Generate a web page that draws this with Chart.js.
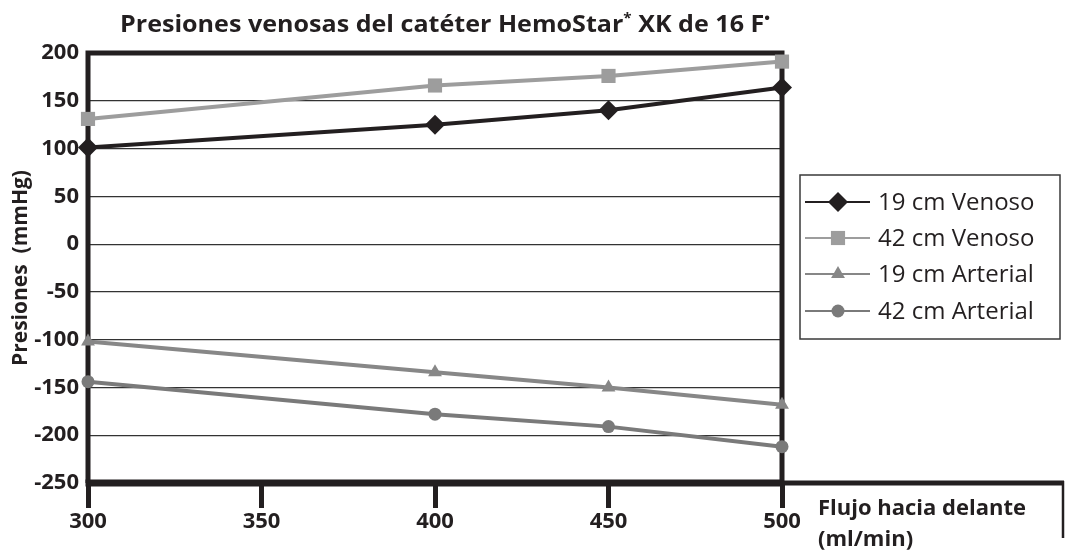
<!DOCTYPE html>
<html>
<head>
<meta charset="utf-8">
<script src="https://cdn.jsdelivr.net/npm/chart.js@4/dist/chart.umd.min.js"></script>
<style>
  html, body { margin: 0; padding: 0; background: #fff; }
  #wrap { width: 1068px; height: 554px; }
</style>
</head>
<body>
<div id="wrap"><canvas id="g-presiones" width="1068" height="554"></canvas></div>
<script>
// valores (mmHg) para cada flujo (ml/min)
const flujo = [300, 400, 450, 500];
const venoso19 = [101, 125, 140, 164];
const venoso42 = [131, 166, 176, 191];
const arterial19 = [-102, -134, -150, -168];
const arterial42 = [-144, -178, -191, -212];
const series = ['19 cm Venoso', '42 cm Venoso', '19 cm Arterial', '42 cm Arterial'];
const xTicks = [300, 350, 400, 450, 500];
const yTicks = [200, 150, 100, 50, 0, -50, -100, -150, -200, -250];

const negro = '#231f20';
const fontFam = '"Open Sans", "Liberation Sans", sans-serif';

function puntos(vals) {
    return flujo.map((f, i) => ({ x: f, y: vals[i] }));
}

// marco, eje inferior extendido y leyenda
const marco = {
    id: 'marco',
    beforeDatasetsDraw(chart) {
        const { ctx, chartArea: a } = chart;
        ctx.save();
        ctx.strokeStyle = negro;
        ctx.lineCap = 'butt';
        ctx.lineWidth = 5;
        ctx.beginPath();
        ctx.moveTo(a.left, a.bottom);
        ctx.lineTo(a.left, a.top);
        ctx.lineTo(a.right, a.top);
        ctx.lineTo(a.right, a.bottom);
        ctx.stroke();
        ctx.lineWidth = 7;
        ctx.beginPath();
        ctx.moveTo(a.left - 2.5, a.bottom);
        ctx.lineTo(a.right, a.bottom);
        ctx.stroke();
        ctx.lineWidth = 5;
        ctx.beginPath();
        ctx.moveTo(a.right, a.bottom);
        ctx.lineTo(1064, a.bottom);
        ctx.stroke();
        ctx.lineWidth = 2.5;
        ctx.beginPath();
        ctx.moveTo(1063, a.bottom - 2);
        ctx.lineTo(1063, 538);
        ctx.stroke();
        ctx.restore();
    },
    afterDraw(chart) {
        const { ctx } = chart;
        ctx.save();
        // titulo
        const partes = [
            ['Presiones venosas del catéter HemoStar', false],
            ['*', true],
            [' XK de 16 F', false],
            ['\u2022', true]
        ];
        const fNormal = 'bold 23px ' + fontFam;
        const fSup = 'bold 14px ' + fontFam;
        let total = 0;
        partes.forEach(([t, sup]) => {
            ctx.font = sup ? fSup : fNormal;
            total += ctx.measureText(t).width;
        });
        const sx = 650 / total;
        ctx.translate(120, 32);
        ctx.scale(sx, 1);
        ctx.fillStyle = negro;
        ctx.textBaseline = 'alphabetic';
        let x = 0;
        partes.forEach(([t, sup]) => {
            ctx.font = sup ? fSup : fNormal;
            ctx.fillText(t, x, sup ? -9 : 0);
            x += ctx.measureText(t).width;
        });
        ctx.setTransform(1, 0, 0, 1, 0, 0);
        ctx.restore();

        // titulo eje x
        ctx.save();
        ctx.fillStyle = negro;
        ctx.font = 'bold 22px ' + fontFam;
        ctx.textBaseline = 'middle';
        ctx.textAlign = 'left';
        ctx.fillText('Flujo hacia delante', 818, 509);
        ctx.fillText('(ml/min)', 818, 540);
        ctx.restore();

        // leyenda
        ctx.save();
        ctx.strokeStyle = '#3a3a3a';
        ctx.lineWidth = 1.5;
        ctx.strokeRect(800, 175, 260, 164);
        const ys = [202, 238, 274, 311];
        chart.data.datasets.forEach((ds, i) => {
            ctx.strokeStyle = ds.borderColor;
            ctx.lineWidth = 2;
            ctx.beginPath();
            ctx.moveTo(805, ys[i]);
            ctx.lineTo(870, ys[i]);
            ctx.stroke();
            ctx.fillStyle = ds.pointBackgroundColor;
            ctx.strokeStyle = ds.pointBackgroundColor;
            Chart.helpers.drawPoint(ctx, {
                pointStyle: ds.pointStyle,
                radius: ds.pointRadius,
                rotation: 0,
                borderWidth: 0
            }, 838, ys[i]);
            ctx.fillStyle = negro;
            ctx.font = '24px ' + fontFam;
            ctx.textBaseline = 'middle';
            ctx.fillText(ds.label, 878, ys[i] + 1);
        });
        ctx.restore();
    }
};

function drawGraph() {
    const ctx = document.getElementById('g-presiones').getContext('2d');
    const estilos = [
        { color: negro, style: 'rectRot', r: 10 },
        { color: '#9d9d9d', style: 'rect', r: 10 },
        { color: '#878787', style: 'triangle', r: 8 },
        { color: '#7a7a7a', style: 'circle', r: 6.5 }
    ];
    const valores = [venoso19, venoso42, arterial19, arterial42];

    const config = {
        type: 'line',
        data: {
            datasets: series.map((nombre, i) => ({
                label: nombre,
                data: puntos(valores[i]),
                borderColor: estilos[i].color,
                backgroundColor: estilos[i].color,
                pointBackgroundColor: estilos[i].color,
                pointBorderColor: estilos[i].color,
                pointBorderWidth: 0,
                pointStyle: estilos[i].style,
                pointRadius: estilos[i].r,
                borderWidth: 4,
                tension: 0,
                clip: false
            }))
        },
        options: {
            responsive: false,
            animation: false,
            events: [],
            layout: { padding: { left: 0, right: 286, top: 53, bottom: 0 } },
            plugins: {
                legend: { display: false },
                tooltip: { enabled: false }
            },
            scales: {
                x: {
                    type: 'linear',
                    min: 300,
                    max: 500,
                    afterFit: s => { s.height = 71; },
                    afterBuildTicks: s => { s.ticks = xTicks.map(v => ({ value: v })); },
                    border: { display: false },
                    grid: {
                        drawOnChartArea: false,
                        drawTicks: true,
                        tickLength: 25,
                        tickWidth: 5,
                        tickColor: negro,
                        color: 'rgba(0,0,0,0)'
                    },
                    ticks: {
                        color: negro,
                        font: { family: fontFam, size: 22, weight: 'bold' },
                        padding: 1,
                        maxRotation: 0
                    }
                },
                y: {
                    min: -250,
                    max: 200,
                    afterFit: s => { s.width = 88; },
                    afterBuildTicks: s => { s.ticks = yTicks.map(v => ({ value: v })); },
                    border: { display: false },
                    grid: {
                        drawTicks: false,
                        color: '#333333',
                        lineWidth: 1.2
                    },
                    ticks: {
                        color: negro,
                        font: { family: fontFam, size: 22, weight: 'bold' },
                        padding: 9
                    },
                    title: {
                        display: true,
                        text: 'Presiones  (mmHg)',
                        color: negro,
                        font: { family: fontFam, size: 21, weight: 'bold' },
                        padding: { top: 8, bottom: 0 }
                    }
                }
            }
        },
        plugins: [marco]
    };
    return new Chart(ctx, config);
}

drawGraph();
</script>
</body>
</html>
